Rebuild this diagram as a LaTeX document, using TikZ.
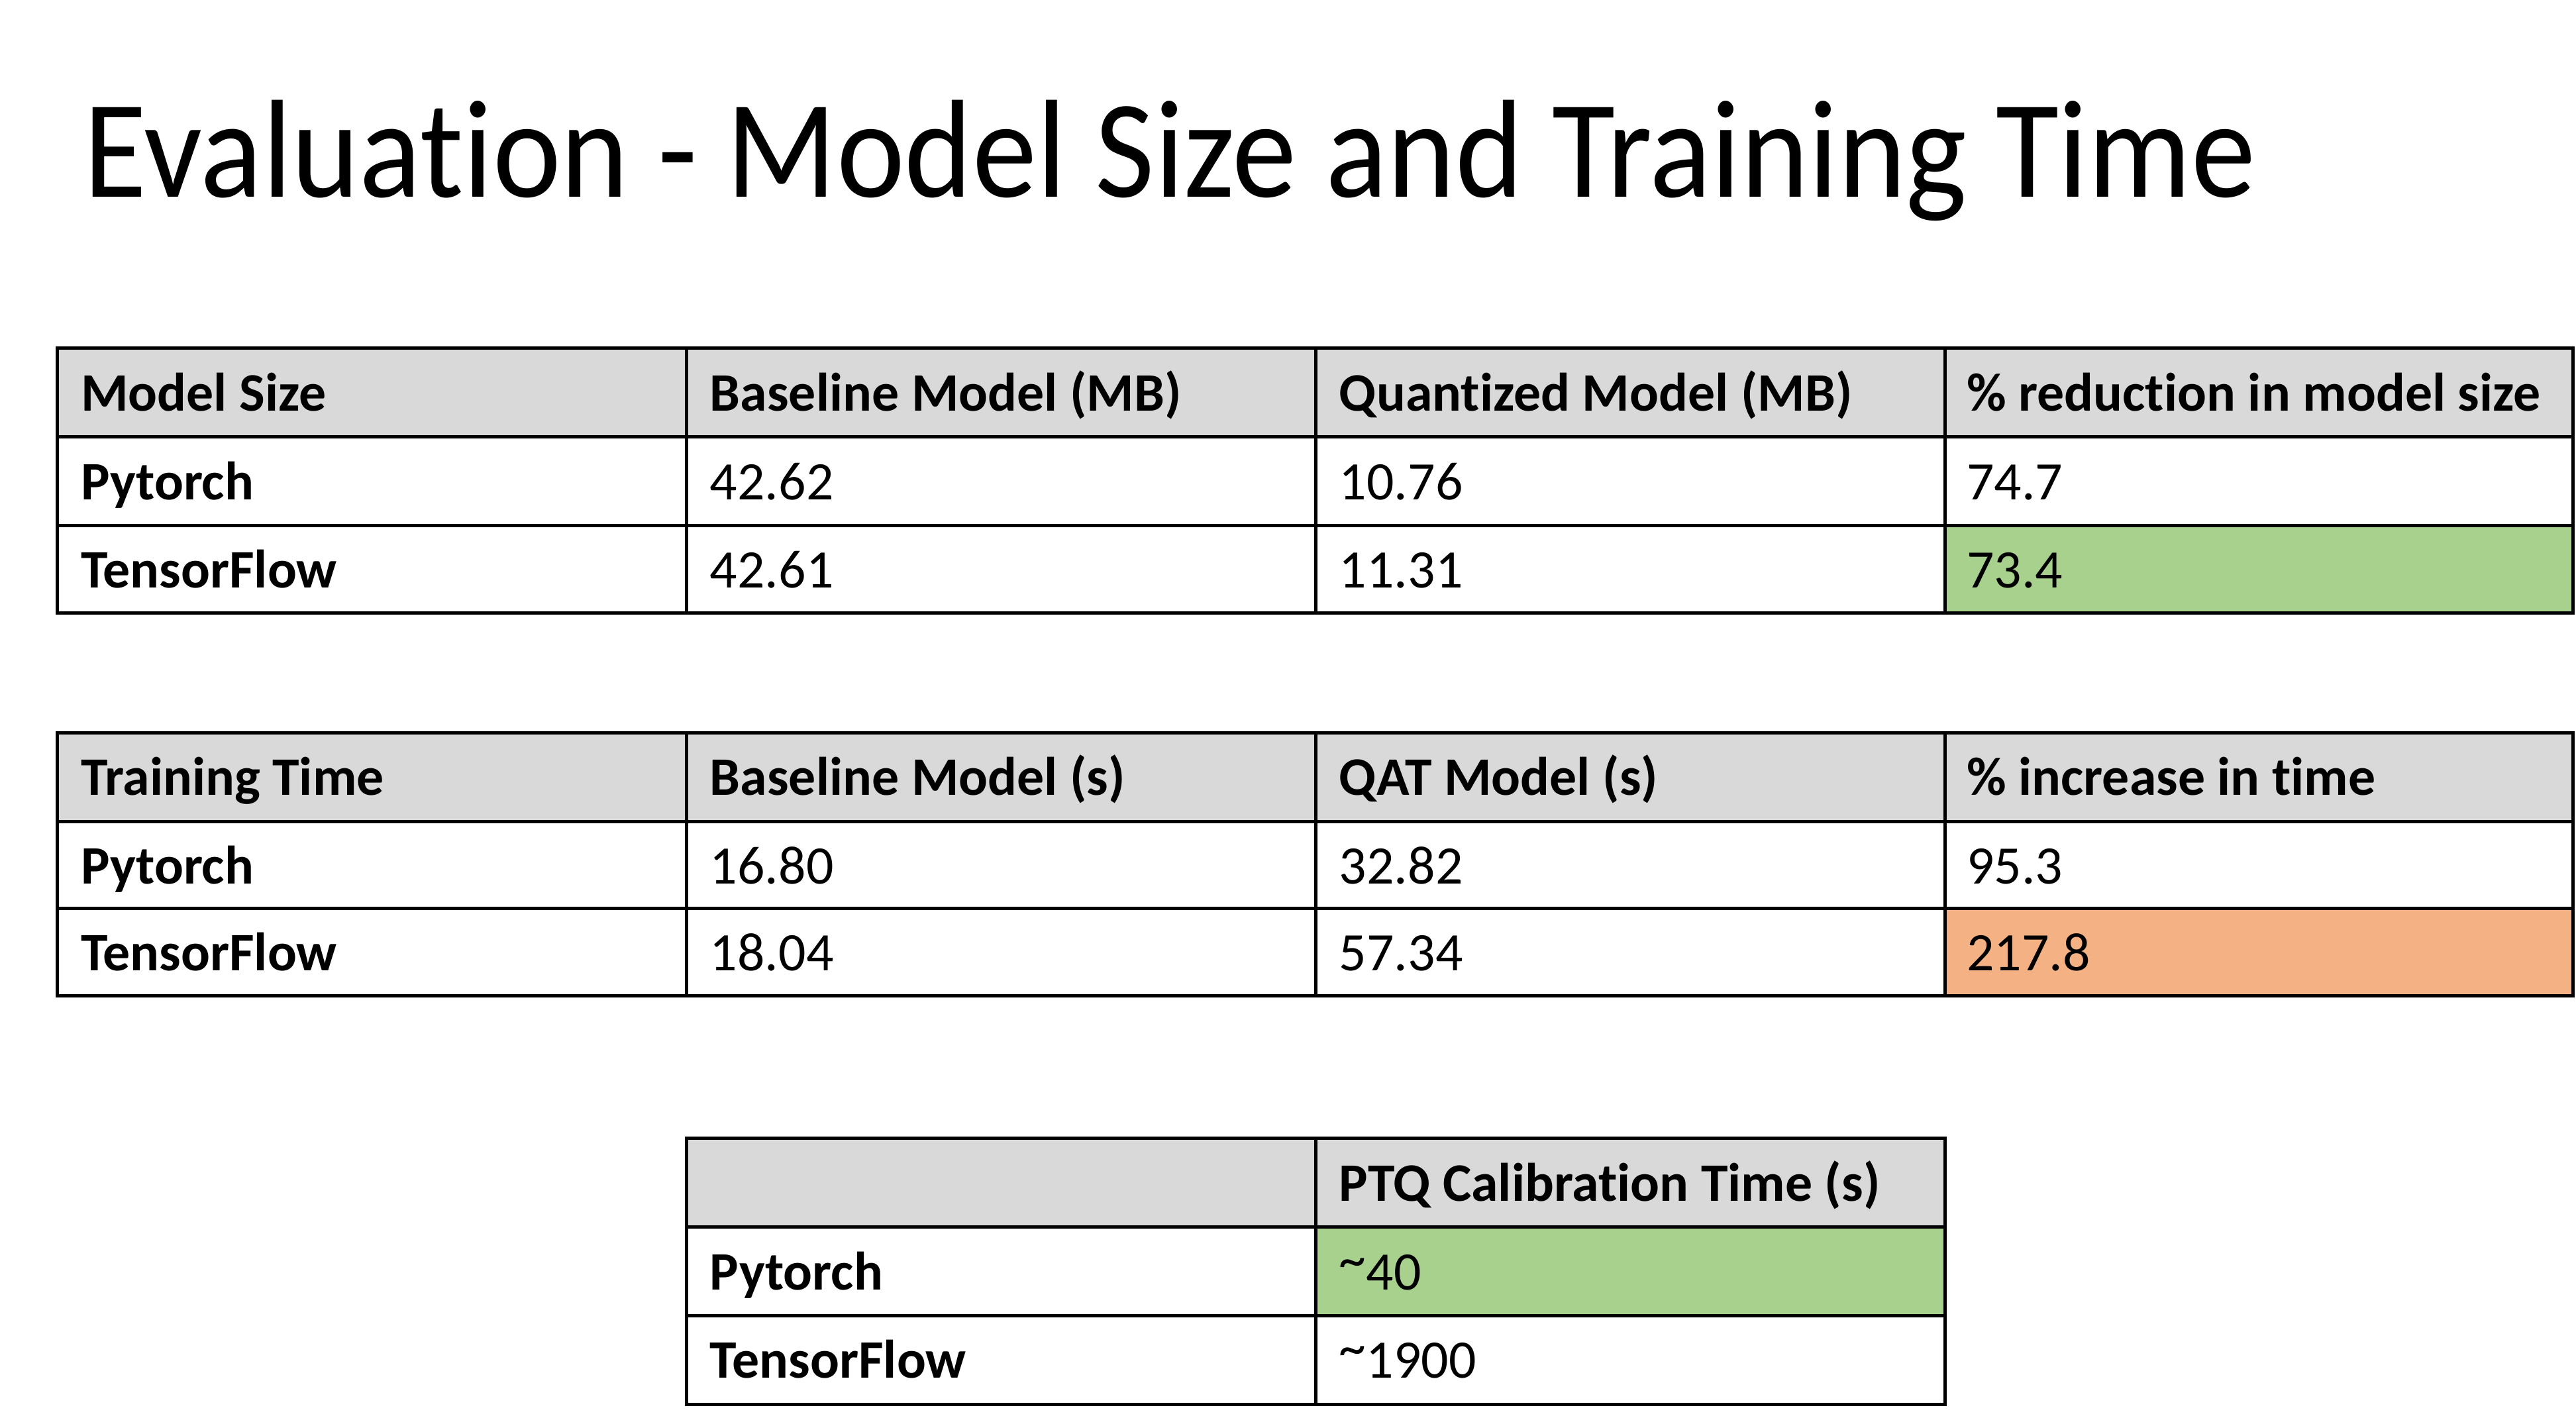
\documentclass[tikz,border=0pt]{standalone}
\usepackage{fontspec}
\setmainfont{Carlito}[RawFeature={-liga}]
\usepackage{graphicx}
\usepackage{tikz}
\definecolor{hdgray}{HTML}{D9D9D9}
\definecolor{goodgreen}{HTML}{A9D18E}
\definecolor{badorange}{HTML}{F4B183}
\newcommand{\hitilde}{\raisebox{0.22em}{\char"007E}}
\tikzset{
  cell/.style={anchor=base west,inner sep=0pt,font=\fontsize{33}{39}\selectfont},
  hd/.style={cell,font=\fontsize{33}{39}\selectfont\bfseries},
  grid/.style={line width=2pt,black}
}

\begin{document}
\begin{tikzpicture}[x=1pt,y=-1pt]
        \useasboundingbox (0,0) rectangle (1568,868);
        \node[anchor=base west,inner sep=0pt,font=\fontsize{85}{100}\selectfont](title)at(51,120){\scalebox{0.924}[1]{Evaluation - Model Size and Training Time}};
        % model size
        \fill[hdgray] (35,212) rectangle (1566,266);
        \fill[goodgreen] (1184,320) rectangle (1566,373);
        \draw[grid] (35,212) rectangle (1566,373);
        \draw[grid] (35,266) -- (1566,266) (35,320) -- (1566,320);
        \foreach \x in {418,801,1184} \draw[grid] (\x,212) -- (\x,373);
        \node[hd](sa)at(49,250){Model Size};
        \node[hd](sb)at(432,250){Baseline Model (MB)};
        \node[hd](sc)at(815,250){Quantized Model (MB)};
        \node[hd](sd)at(1197,250){\% reduction in model size};
        \node[hd](spt)at(49,304){Pytorch};
        \node[cell](spt1)at(432,304){42.62};
        \node[cell](spt2)at(815,304){10.76};
        \node[cell](spt3)at(1197,304){74.7};
        \node[hd](stf)at(49,358){TensorFlow};
        \node[cell](stf1)at(432,358){42.61};
        \node[cell](stf2)at(815,358){11.31};
        \node[cell](stf3)at(1197,358){73.4};
        % training time
        \fill[hdgray] (35,446) rectangle (1566,500);
        \fill[badorange] (1184,553) rectangle (1566,606);
        \draw[grid] (35,446) rectangle (1566,606);
        \draw[grid] (35,500) -- (1566,500) (35,553) -- (1566,553);
        \foreach \x in {418,801,1184} \draw[grid] (\x,446) -- (\x,606);
        \node[hd](ta)at(49,484){Training Time};
        \node[hd](tb)at(432,484){Baseline Model (s)};
        \node[hd](tc)at(815,484){QAT Model (s)};
        \node[hd](td)at(1197,484){\% increase in time};
        \node[hd](tpt)at(49,538){Pytorch};
        \node[cell](tpt1)at(432,538){16.80};
        \node[cell](tpt2)at(815,538){32.82};
        \node[cell](tpt3)at(1197,538){95.3};
        \node[hd](ttf)at(49,591){TensorFlow};
        \node[cell](ttf1)at(432,591){18.04};
        \node[cell](ttf2)at(815,591){57.34};
        \node[cell](ttf3)at(1197,591){217.8};
        % calibration
        \fill[hdgray] (418,693) rectangle (1184,747);
        \fill[goodgreen] (801,747) rectangle (1184,801);
        \draw[grid] (418,693) rectangle (1184,855);
        \draw[grid] (418,747) -- (1184,747) (418,801) -- (1184,801) (801,693) -- (801,855);
        \node[hd](cb)at(815,731){PTQ Calibration Time (s)};
        \node[hd](cpt)at(432,785){Pytorch};
        \node[cell](cpt1)at(815,785){\hitilde40};
        \node[hd](ctf)at(432,839){TensorFlow};
        \node[cell](ctf1)at(815,839){\hitilde1900};
    \end{tikzpicture}
\end{document}
